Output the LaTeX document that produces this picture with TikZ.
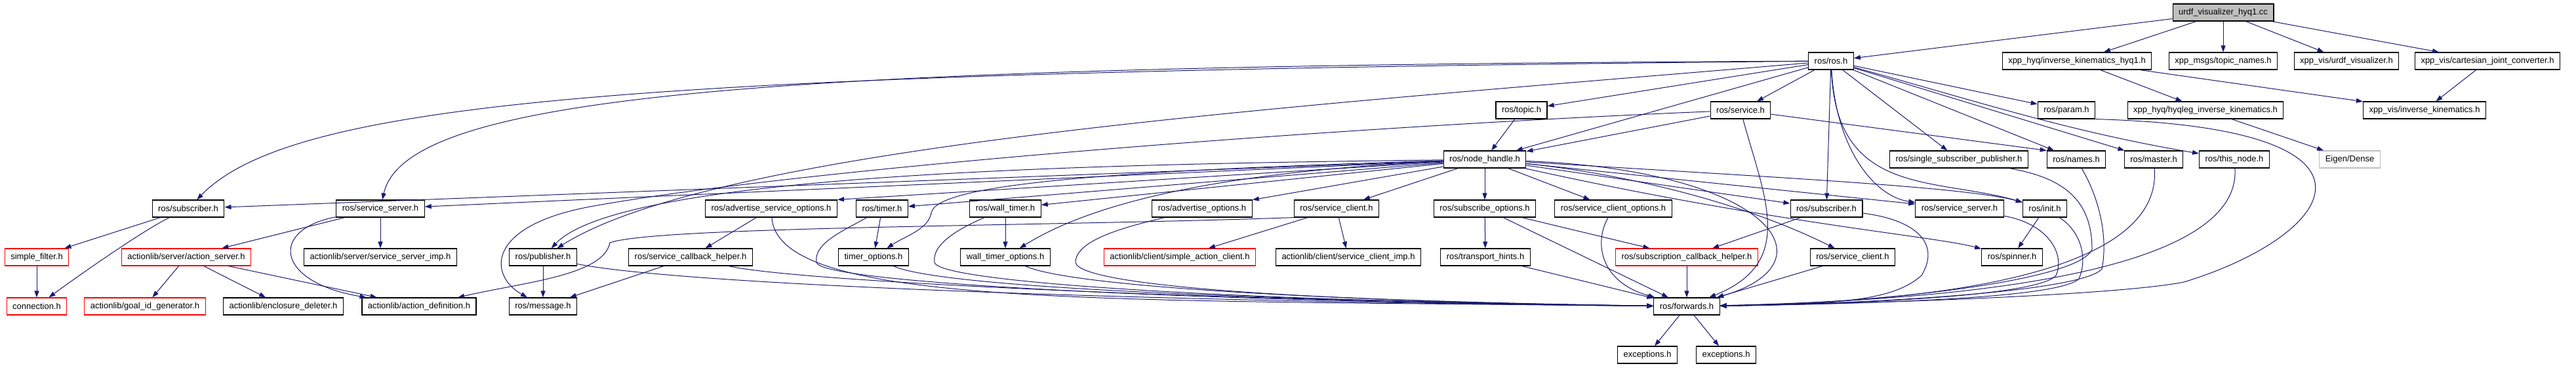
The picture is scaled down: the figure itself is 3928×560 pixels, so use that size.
\documentclass[tikz,border=0pt]{standalone}
\usepackage{fontspec}
\setmainfont{Liberation Sans}
\usepackage{xcolor}
\usepackage{tikz}
\usetikzlibrary{arrows.meta}
\definecolor{edgeblue}{HTML}{191970}
\definecolor{boxgray}{HTML}{BFBFBF}

\begin{document}
\begin{tikzpicture}[x=1pt, y=-1pt,
  font=\fontsize{13}{15}\selectfont,
  hdr/.style={draw=black, line width=1.2pt, fill=white, inner xsep=9pt,
              inner ysep=0pt, minimum height=26pt},
  hdrred/.style={hdr, draw=red},
  hdrext/.style={hdr, draw=boxgray},
  hdrroot/.style={hdr, fill=boxgray},
  inc/.style={-{Triangle[length=10pt,width=7pt]}, line width=1pt, color=edgeblue}]

\useasboundingbox (0,0) rectangle (3928,560);

\node[hdrroot] (root) at (3390,19) {urdf\_visualizer\_hyq1.cc};

\node[hdr] (ros)        at (2792,93) {ros/ros.h};
\node[hdr] (ikhyq)      at (3167,93) {xpp\_hyq/inverse\_kinematics\_hyq1.h};
\node[hdr] (topicnames) at (3390,93) {xpp\_msgs/topic\_names.h};
\node[hdr] (urdfvis)    at (3578,93) {xpp\_vis/urdf\_visualizer.h};
\node[hdr] (cartconv)   at (3793,93) {xpp\_vis/cartesian\_joint\_converter.h};

\node[hdr] (topic)   at (2320,168) {ros/topic.h};
\node[hdr] (service) at (2654,168) {ros/service.h};
\node[hdr] (param)   at (3151,168) {ros/param.h};
\node[hdr] (hyqleg)  at (3363,168) {xpp\_hyq/hyqleg\_inverse\_kinematics.h};
\node[hdr] (ikvis)   at (3697,168) {xpp\_vis/inverse\_kinematics.h};

\node[hdr] (nh)       at (2264,243) {ros/node\_handle.h};
\node[hdr] (ssp)      at (2987,243) {ros/single\_subscriber\_publisher.h};
\node[hdr] (names)    at (3166,243) {ros/names.h};
\node[hdr] (master)   at (3284,243) {ros/master.h};
\node[hdr] (thisnode) at (3407,243) {ros/this\_node.h};
\node[hdrext] (eigen) at (3583,243) {Eigen/Dense};

\node[hdr] (subL)   at (287,318)  {ros/subscriber.h};
\node[hdr] (ssrvL)  at (580,318)  {ros/service\_server.h};
\node[hdr] (aso)    at (1176,318) {ros/advertise\_service\_options.h};
\node[hdr] (timer)  at (1345,318) {ros/timer.h};
\node[hdr] (wtimer) at (1533,318) {ros/wall\_timer.h};
\node[hdr] (ao)     at (1833,318) {ros/advertise\_options.h};
\node[hdr] (sclL)   at (2038,318) {ros/service\_client.h};
\node[hdr] (subopt) at (2264,318) {ros/subscribe\_options.h};
\node[hdr] (scopt)  at (2460,318) {ros/service\_client\_options.h};
\node[hdr] (subR)   at (2785,318) {ros/subscriber.h};
\node[hdr] (ssrvR)  at (2988,318) {ros/service\_server.h};
\node[hdr] (init)   at (3118,318) {ros/init.h};

\node[hdrred] (sfilter) at (56,392)   {simple\_filter.h};
\node[hdrred] (asrv)    at (284,392)  {actionlib/server/action\_server.h};
\node[hdr] (ssimp)      at (580,392)  {actionlib/server/service\_server\_imp.h};
\node[hdr] (pub)        at (828,392)  {ros/publisher.h};
\node[hdr] (sch)        at (1053,392) {ros/service\_callback\_helper.h};
\node[hdr] (topt)       at (1332,392) {timer\_options.h};
\node[hdr] (wtopt)      at (1533,392) {wall\_timer\_options.h};
\node[hdrred] (sac)     at (1799,392) {actionlib/client/simple\_action\_client.h};
\node[hdr] (scimp)      at (2056,392) {actionlib/client/service\_client\_imp.h};
\node[hdr] (hints)      at (2265,392) {ros/transport\_hints.h};
\node[hdrred] (subcb)   at (2572,392) {ros/subscription\_callback\_helper.h};
\node[hdr] (sclR)       at (2825,392) {ros/service\_client.h};
\node[hdr] (spinner)    at (3068,392) {ros/spinner.h};

\node[hdrred] (conn)   at (56,467)   {connection.h};
\node[hdrred] (goalid) at (221,467)  {actionlib/goal\_id\_generator.h};
\node[hdr] (encl)      at (432,467)  {actionlib/enclosure\_deleter.h};
\node[hdr] (actdef)    at (639,467)  {actionlib/action\_definition.h};
\node[hdr] (msg)       at (828,467)  {ros/message.h};
\node[hdr] (fwd)       at (2572,467) {ros/forwards.h};

\node[hdr] (excA) at (2512,541) {exceptions.h};
\node[hdr] (excB) at (2632,541) {exceptions.h};

\foreach \a/\b in {root/ros, root/ikhyq, root/topicnames, root/urdfvis, root/cartconv,
    ikhyq/hyqleg, ikhyq/ikvis, cartconv/ikvis, hyqleg/eigen,
    ros/topic, ros/service, ros/nh, ros/ssp, ros/names, ros/param, ros/master, ros/subR,
    topic/nh, service/nh,
    nh/subL, nh/ssrvL, nh/timer, nh/wtimer, nh/ao, nh/sclL, nh/subopt, nh/scopt, nh/subR, nh/ssrvR,
    subL/sfilter, sfilter/conn, ssrvL/asrv, ssrvL/ssimp, asrv/goalid, asrv/encl, asrv/actdef,
    aso/sch, sch/msg, pub/msg, timer/topt, wtimer/wtopt, sclL/sac, sclL/scimp,
    subopt/hints, subopt/subcb, subopt/fwd, hints/fwd, subcb/fwd, subR/subcb, sclR/fwd,
    init/spinner, fwd/excA, fwd/excB}
  \draw[inc] (\a) -- (\b);

\draw[inc] (nh) -- (aso.north east);
\draw[inc] (service) -- (names.north west);

\draw[inc] (ros) .. controls (1000,110) and (450,150) .. (subL);
\draw[inc] (ros) .. controls (1200,100) and (620,140) .. (ssrvL);
\draw[inc] (ros) .. controls (2000,160) and (1100,220) .. (pub);
\draw[inc] (ros) .. controls (3000,150) and (3150,200) .. (thisnode);
\draw[inc] (ros) .. controls (2800,230) and (2860,300) .. (ssrvR);
\draw[inc] (ros) .. controls (2800,300) and (2950,270) .. (init);

\draw[inc] (nh) .. controls (1700,250) and (950,262) .. (pub);
\draw[inc] (nh) .. controls (1700,260) and (1425,280) .. (1420,325)
                .. controls (1415,350) and (1380,360) .. (topt);
\draw[inc] (nh) .. controls (1900,260) and (1680,300) .. (wtopt);
\draw[inc] (nh) .. controls (2700,260) and (2800,400) .. (fwd);
\draw[inc] (nh) .. controls (2700,270) and (3000,285) .. (init);
\draw[inc] (nh) .. controls (2700,340) and (2950,360) .. (spinner);
\draw[inc] (nh) .. controls (2450,262) and (2640,300) .. (sclR);

\draw[inc] (service) .. controls (2000,195) and (1200,260) .. (900,315)
                     .. controls (740,345) and (745,420) .. (msg);
\draw[inc] (service) .. controls (2690,300) and (2740,400) .. (fwd);

\draw[inc] (subL) .. controls (220,350) and (120,420) .. (conn);
\draw[inc] (ssrvL) .. controls (410,350) and (420,430) .. (actdef);
\draw[inc] (sclL.south west) .. controls (1600,345) and (1000,345) .. (930,370)
                             .. controls (920,420) and (800,430) .. (actdef);

\draw[inc] (pub) .. controls +(200,40) and +(-900,-8) .. (fwd);
\draw[inc] (sch) .. controls +(150,35) and +(-800,-10) .. (fwd);
\draw[inc] (topt) .. controls +(100,45) and +(-700,-10) .. (fwd);
\draw[inc] (wtopt) .. controls +(100,45) and +(-550,-8) .. (fwd);
\draw[inc] (aso) .. controls +(10,150) and +(-900,-10) .. (fwd);
\draw[inc] (timer) .. controls (1290,350) and (1240,370) .. (1245,400)
                   .. controls (1250,430) and +(-800,-8) .. (fwd);
\draw[inc] (wtimer) .. controls (1470,345) and (1420,370) .. (1425,400)
                    .. controls (1430,430) and +(-700,-8) .. (fwd);
\draw[inc] (ao) .. controls (1720,345) and (1640,365) .. (1640,400)
                .. controls (1645,435) and +(-600,-8) .. (fwd);
\draw[inc] (scopt) .. controls (2430,370) and (2440,430) .. (fwd);

\draw[inc] (subR) .. controls (2920,335) and (2960,370) .. (2930,420)
                  .. controls (2890,455) and +(250,-3) .. (fwd);
\draw[inc] (ssrvR) .. controls (3120,340) and (3150,385) .. (3135,420)
                   .. controls +(-25,30) and +(280,-4) .. (fwd);
\draw[inc] (init) .. controls (3170,350) and (3185,390) .. (3170,425)
                  .. controls +(-30,30) and +(280,-4) .. (fwd);
\draw[inc] (names) .. controls (3200,300) and (3215,360) .. (3205,410)
                   .. controls +(-30,35) and +(280,-4) .. (fwd);
\draw[inc] (ssp) .. controls (3140,270) and (3190,300) .. (3190,380)
                 .. controls (3170,430) and +(280,-4) .. (fwd);
\draw[inc] (master) .. controls (3300,440) and (2850,462) .. (fwd);
\draw[inc] (thisnode) .. controls (3420,440) and (2850,460) .. (fwd);
\draw[inc] (param.south east) .. controls (3680,195) and (3560,360) .. (3330,430)
                   .. controls +(-100,20) and +(280,-4) .. (fwd);
\end{tikzpicture}
\end{document}
